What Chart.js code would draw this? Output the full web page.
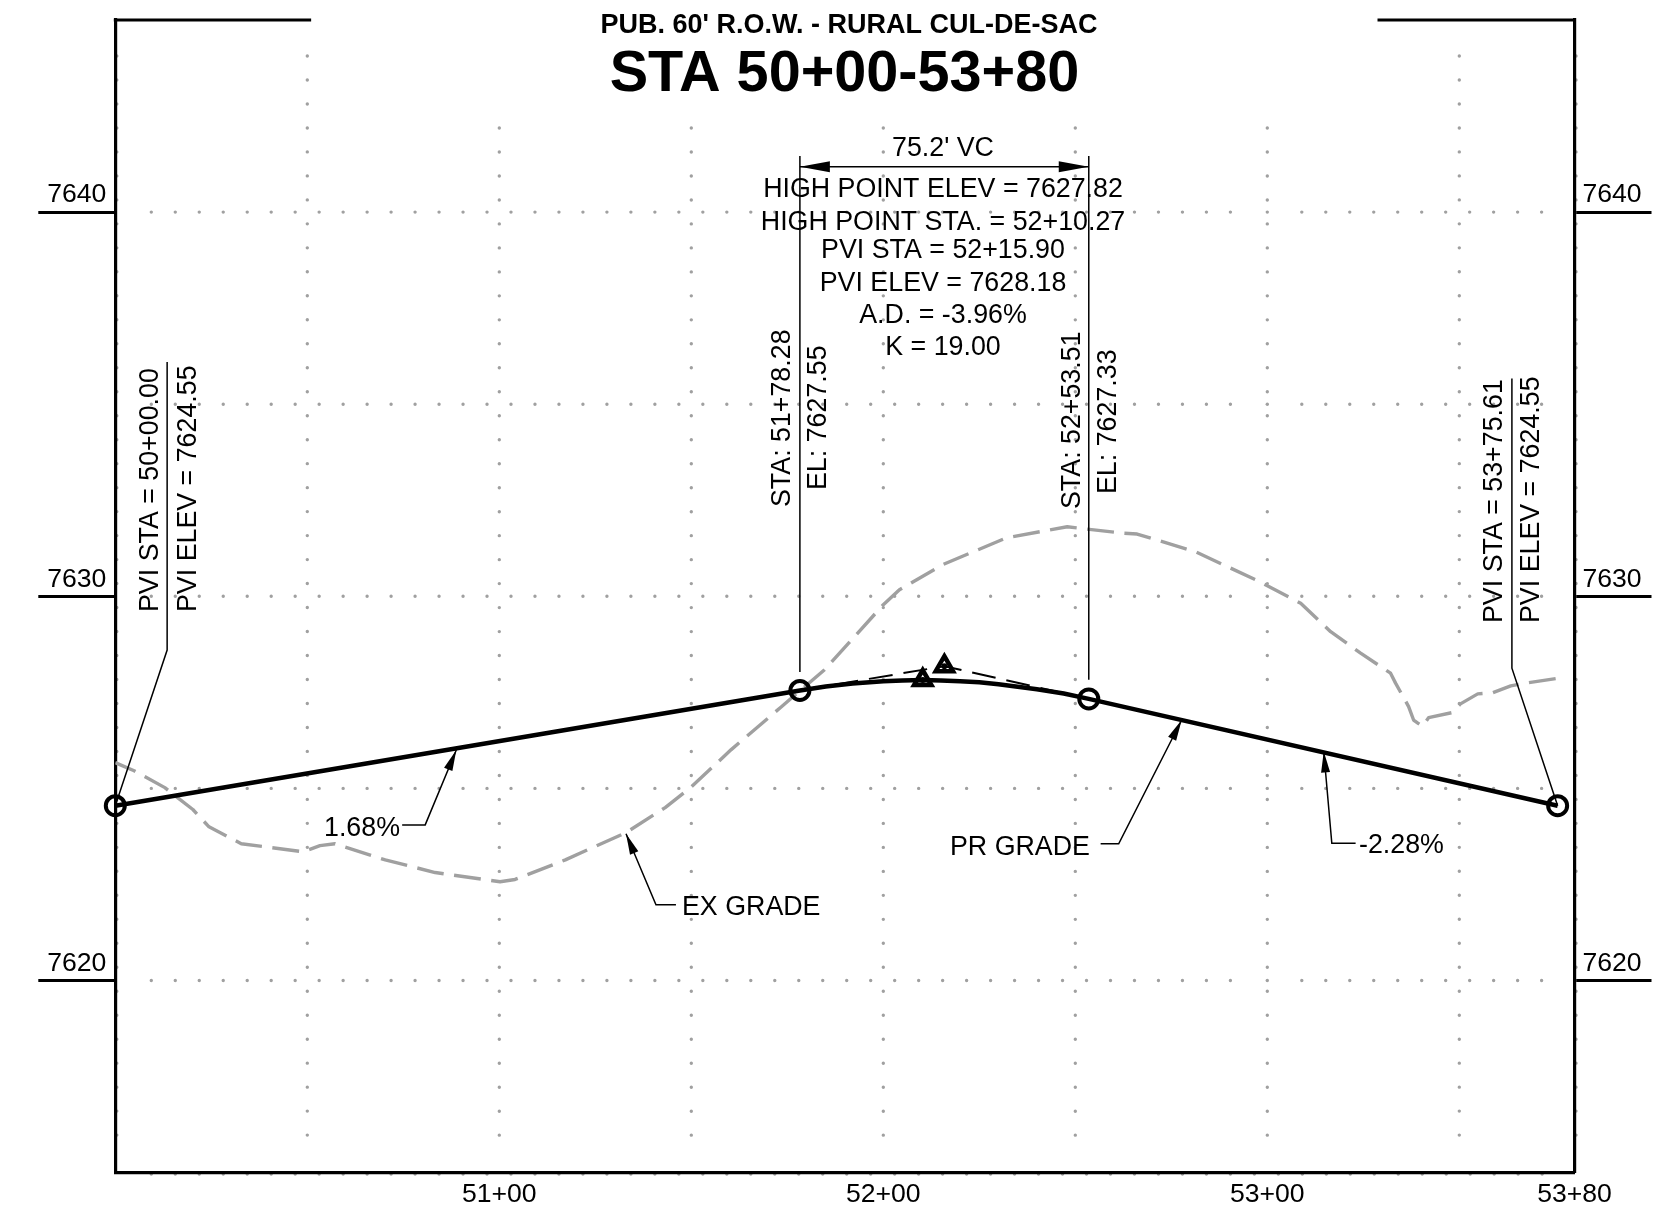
<!DOCTYPE html>
<html>
<head>
<meta charset="utf-8">
<title>STA 50+00-53+80</title>
<script src="https://cdn.jsdelivr.net/npm/chart.js@4"></script>
<style>
html,body{margin:0;padding:0;background:#fff}
canvas{display:block}
</style>
</head>
<body>
<canvas id="profile" width="1658" height="1222"></canvas>
<script>
/* Road profile sheet: existing grade, proposed grade, vertical curve */

// axis ticks
var xTickValues=[5100,5200,5300,5380];
var xTickLabels=['51+00','52+00','53+00','53+80'];
var yTickValues=[7620,7630,7640];

// dotted grid
var gridFrameStations=[5000,5380];
var gridFullStations=[5050,5350];
var gridShortStations=[5100,5150,5200,5250,5300];
var gridElevs=[7620,7625,7630,7635,7640];

// existing grade
var exStations=[5000,5004.9,5012.9,5020.2,5024.4,5032.8,5048.9,5053.3,5057.2,5070.3,5083.3,5100.2,5104.1,5117.2,5133,5143.2,5150,5160.4,5173.4,5184.7,5200,5204.2,5215.4,5232,5247.9,5261.7,5266.1,5281.3,5297.8,5308.7,5316.5,5324.3,5332.1,5333.4,5336.8,5338.1,5339.2,5340.4,5342,5348,5350.3,5354.8,5358.7,5363.4,5366,5375.9];
var exElevs=[7625.67,7625.46,7625.02,7624.45,7624,7623.56,7623.35,7623.51,7623.56,7623.14,7622.81,7622.57,7622.63,7623.14,7623.85,7624.5,7625.04,7626.01,7627.12,7628.09,7629.78,7630.17,7630.82,7631.52,7631.81,7631.65,7631.62,7631.16,7630.39,7629.82,7629.08,7628.52,7628,7627.74,7627.13,7626.78,7626.7,7626.62,7626.84,7626.97,7627.2,7627.46,7627.49,7627.67,7627.72,7627.87];

// proposed grade
var prStations=[5000,5178.28,5185,5192,5200,5205,5210.27,5215,5220,5225,5230,5240,5247,5253.51,5375.61];
var prElevs=[7624.55,7627.55,7627.65,7627.73,7627.79,7627.81,7627.82,7627.81,7627.79,7627.76,7627.71,7627.58,7627.47,7627.33,7624.55];

// tangents through the PVI
var tanStations=[5178.28,5215.9,5253.51];
var tanElevs=[7627.55,7628.18,7627.33];

// control points
var circleStations=[5000,5178.28,5253.51,5375.61];
var circleElevs=[7624.55,7627.55,7627.33,7624.55];
var triangleStations=[5210.27,5215.9];
var triangleElevs=[7627.82,7628.18];

// leaders as [station, elevation]
var leaderPviStart=[[5013.5,7636.1],[5013.5,7628.6],[5000,7624.55]];
var leaderPvc=[[5178.28,7641.46],[5178.28,7628.03]];
var leaderPvt=[[5253.51,7641.46],[5253.51,7627.83]];
var leaderPviEnd=[[5363.7,7635.67],[5363.7,7628.13],[5375.61,7624.55]];
var leaderDim=[[5178.28,7641.18],[5253.51,7641.18]];
var arrowUp168=[[5074.7,7624.05],[5080.7,7624.05],[5088.8,7626]];
var arrowEx=[[5146,7621.97],[5140.8,7621.97],[5133,7623.82]];
var arrowPr=[[5256.6,7623.56],[5261.3,7623.56],[5277.7,7626.78]];
var arrowDown228=[[5323,7623.57],[5316.8,7623.57],[5314.7,7625.96]];

// sheet text
var titleSub="PUB. 60' R.O.W. - RURAL CUL-DE-SAC";
var titleMain='STA 50+00-53+80';
var curveNotes=["75.2' VC",'HIGH POINT ELEV = 7627.82','HIGH POINT STA. = 52+10.27','PVI STA = 52+15.90','PVI ELEV = 7628.18','A.D. = -3.96%','K = 19.00'];
var curveNoteBaselines=[156,197.4,230,258.4,290.7,323,355.4];

function zip(a,b){
  return a.map(function(v,i){return{x:v,y:b[i]};});
}
function pairs(list){
  return list.map(function(p){return{x:p[0],y:p[1]};});
}
function thinLine(list){
  return{data:pairs(list),borderColor:'#000',borderWidth:1.5,pointRadius:0,fill:false,clip:false};
}
function dots(ctx,x1,y1,x2,y2){
  ctx.beginPath();
  ctx.moveTo(x1,y1);
  ctx.lineTo(x2,y2);
  ctx.stroke();
}
function dotPen(c){
  c.strokeStyle='#a0a0a0';
  c.lineWidth=3.4;
  c.lineCap='round';
  c.setLineDash([0,23.98]);
}

var font='"Liberation Sans", Arial, sans-serif';

/* ── Dotted grid: frame rows go under the axes, the rest under the datasets ── */
var dottedGrid={
  id:'dottedGrid',
  beforeDraw:function(chart){
    var c=chart.ctx,a=chart.chartArea,xs=chart.scales.x,ys=chart.scales.y;
    c.save();
    dotPen(c);
    gridFrameStations.forEach(function(s){
      var x=xs.getPixelForValue(s)+1.5;
      dots(c,x,a.top+36,x,a.bottom-34);
    });
    var y=ys.getPixelForValue(7615)+1.5;
    dots(c,a.left+36,y,a.right-32,y);
    c.restore();
  },
  beforeDatasetsDraw:function(chart){
    var c=chart.ctx,a=chart.chartArea,xs=chart.scales.x,ys=chart.scales.y;
    c.save();
    dotPen(c);
    gridFullStations.forEach(function(s){
      var x=xs.getPixelForValue(s);
      dots(c,x,a.top+36,x,a.bottom-34);
    });
    gridShortStations.forEach(function(s){
      var x=xs.getPixelForValue(s);
      dots(c,x,a.top+108,x,a.bottom-34);
    });
    var splitX=xs.getPixelForValue(5300);
    gridElevs.forEach(function(v){
      var y=ys.getPixelForValue(v);
      dots(c,a.left+36,y,splitX-34,y);
      dots(c,splitX,y,splitX+1,y);
      dots(c,splitX+34.5,y,a.right-32,y);
    });
    c.restore();
  }
};

/* ── Frame top, arrowheads and all the notes ── */
var sheetNotes={
  id:'sheetNotes',
  afterDatasetsDraw:function(chart){
    var c=chart.ctx,a=chart.chartArea,xs=chart.scales.x,ys=chart.scales.y;
    c.save();

    // top of the frame is broken for the title
    c.strokeStyle='#000';
    c.lineWidth=3.2;
    dots(c,a.left-1.5,a.top,xs.getPixelForValue(5051),a.top);
    dots(c,xs.getPixelForValue(5328.7),a.top,a.right+1.5,a.top);

    function head(from,to,len,half){
      var x1=xs.getPixelForValue(from[0]),y1=ys.getPixelForValue(from[1]);
      var x2=xs.getPixelForValue(to[0]),y2=ys.getPixelForValue(to[1]);
      var t=Math.atan2(y2-y1,x2-x1);
      c.beginPath();
      c.moveTo(x2,y2);
      c.lineTo(x2-len*Math.cos(t)+half*Math.sin(t),y2-len*Math.sin(t)-half*Math.cos(t));
      c.lineTo(x2-len*Math.cos(t)-half*Math.sin(t),y2-len*Math.sin(t)+half*Math.cos(t));
      c.closePath();
      c.fill();
    }
    c.fillStyle='#000';
    [arrowUp168,arrowEx,arrowPr,arrowDown228].forEach(function(l){
      head(l[l.length-2],l[l.length-1],21,4.5);
    });
    head(leaderDim[1],leaderDim[0],30,5.5);
    head(leaderDim[0],leaderDim[1],30,5.5);

    // titles
    c.textAlign='center';
    c.textBaseline='alphabetic';
    c.font='bold 27px '+font;
    c.fillText(titleSub,849,33);
    c.font='bold 57.6px '+font;
    c.fillText(titleMain,844.5,91);

    // curve data block
    c.font='26.8px '+font;
    curveNotes.forEach(function(t,i){
      c.fillText(t,943,curveNoteBaselines[i]);
    });

    // leader labels
    c.textAlign='left';
    c.fillText('1.68%',324,835.5);
    c.fillText('EX GRADE',682,915);
    c.fillText('PR GRADE',950,854.5);
    c.fillText('-2.28%',1359,853);

    // rotated labels along the leaders
    function up(t,x,y){
      c.save();
      c.translate(x,y);
      c.rotate(-Math.PI/2);
      c.fillText(t,0,0);
      c.restore();
    }
    up('PVI STA = 50+00.00',158,612);
    up('PVI ELEV = 7624.55',195.5,612);
    up('STA: 51+78.28',789.5,507);
    up('EL: 7627.55',826,490);
    up('STA: 52+53.51',1079.5,509);
    up('EL: 7627.33',1116,494);
    up('PVI STA = 53+75.61',1501.5,623);
    up('PVI ELEV = 7624.55',1538.5,623);
    c.restore();
  }
};

new Chart(document.getElementById('profile'),{
  type:'line',
  data:{
    datasets:[
      // first dataset sits on top
      {data:zip(triangleStations,triangleElevs),showLine:false,pointStyle:'triangle',pointRadius:10,pointBorderWidth:4.5,pointBorderColor:'#000',pointBackgroundColor:'rgba(0,0,0,0)',clip:false},
      {data:zip(triangleStations,triangleElevs),showLine:false,pointStyle:'circle',pointRadius:3,pointBorderWidth:0,pointBackgroundColor:'#000',clip:false},
      {data:zip(circleStations,circleElevs),showLine:false,pointStyle:'circle',pointRadius:9.5,pointBorderWidth:4,pointBorderColor:'#000',pointBackgroundColor:'rgba(0,0,0,0)',clip:false},
      {data:zip(prStations,prElevs),borderColor:'#000',borderWidth:4.5,pointRadius:0,fill:false},
      {data:zip(tanStations,tanElevs),borderColor:'#000',borderWidth:2,borderDash:[24,11],pointRadius:0,fill:false},
      thinLine(leaderPviStart),thinLine(leaderPvc),thinLine(leaderPvt),thinLine(leaderPviEnd),thinLine(leaderDim),
      thinLine(arrowUp168),thinLine(arrowEx),thinLine(arrowPr),thinLine(arrowDown228),
      {data:zip(exStations,exElevs),borderColor:'#a0a0a0',borderWidth:3.4,borderDash:[27,10.5],borderDashOffset:5,borderJoinStyle:'round',pointRadius:0,fill:false}
    ]
  },
  options:{
    responsive:false,
    animation:false,
    events:[],
    devicePixelRatio:1,
    layout:{padding:{top:20,left:0,right:0,bottom:0}},
    plugins:{legend:{display:false},tooltip:{enabled:false},title:{display:false}},
    scales:{
      x:{
        type:'linear',min:5000,max:5380,
        afterBuildTicks:function(s){ s.ticks=xTickValues.map(function(v){return{value:v};}); },
        afterFit:function(s){ s.height=49.4; },
        grid:{drawOnChartArea:false,drawTicks:false},
        border:{color:'#000',width:3.2},
        ticks:{
          autoSkip:false,maxRotation:0,padding:6,color:'#000',font:{family:font,size:26.6},
          callback:function(v){ return xTickLabels[xTickValues.indexOf(v)]; }
        }
      },
      y:{
        type:'linear',position:'left',min:7615,max:7645,
        afterBuildTicks:function(s){ s.ticks=yTickValues.map(function(v){return{value:v};}); },
        afterFit:function(s){ s.width=115.3; },
        grid:{drawOnChartArea:false,tickLength:77,tickColor:'#000',tickWidth:3},
        border:{color:'#000',width:3.2},
        ticks:{
          autoSkip:false,padding:-68,labelOffset:-17,color:'#000',font:{family:font,size:26.6},
          callback:function(v){ return String(v); }
        }
      },
      yRight:{
        type:'linear',position:'right',min:7615,max:7645,
        afterBuildTicks:function(s){ s.ticks=yTickValues.map(function(v){return{value:v};}); },
        afterFit:function(s){ s.width=83.5; },
        grid:{drawOnChartArea:false,tickLength:77,tickColor:'#000',tickWidth:3},
        border:{color:'#000',width:3.2},
        ticks:{
          autoSkip:false,padding:-69,labelOffset:-17,color:'#000',font:{family:font,size:26.6},
          callback:function(v){ return String(v); }
        }
      }
    }
  },
  plugins:[dottedGrid,sheetNotes]
});
</script>
</body>
</html>
